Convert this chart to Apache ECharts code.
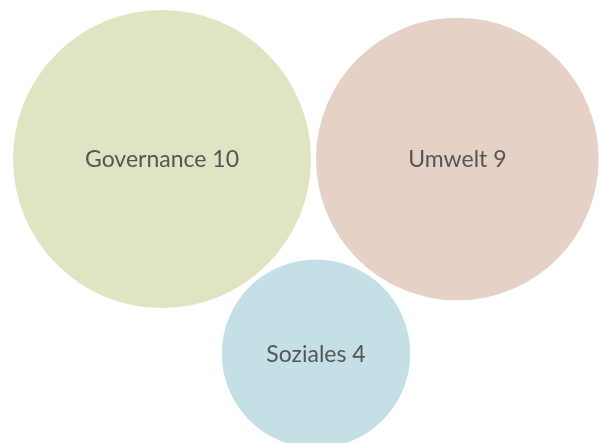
<!DOCTYPE html>
<html>
<head>
<meta charset="utf-8">
<script src="https://cdn.jsdelivr.net/npm/echarts@6/dist/echarts.min.js"></script>
<style>
  html, body { margin: 0; padding: 0; background: #fff; }
  #chart { width: 599px; height: 443px; }
</style>
</head>
<body>
<div id="chart"></div>
<script>
// Daten
const names = ['Governance', 'Umwelt', 'Soziales'];
const values = [10, 9, 4];
const colors = ['#e1e4c3', '#e6d1c7', '#c4e0e6'];

// Kreisfläche proportional zum Wert
const scale = 149 / Math.sqrt(10);
const gap = 5;
const radii = values.map(v => scale * Math.sqrt(v));

// einfaches Packing: die ersten zwei nebeneinander, der dritte darunter an beiden anliegend
const centers = [];
centers[0] = [162, 159];
centers[1] = [centers[0][0] + radii[0] + radii[1] + gap, centers[0][1]];
(function () {
  const a = radii[0] + radii[2] + gap;   // Abstand zu 0
  const b = radii[1] + radii[2] + gap;   // Abstand zu 1
  const d = centers[1][0] - centers[0][0];
  const x = (a * a - b * b + d * d) / (2 * d);
  const y = Math.sqrt(a * a - x * x);
  centers[2] = [centers[0][0] + x, centers[0][1] + y];
})();

const data = names.map((n, i) => ({
  name: n,
  value: [centers[i][0], centers[i][1], values[i]],
  symbolSize: radii[i] * 2,
  itemStyle: { color: colors[i], opacity: 1 }
}));

const myChart = echarts.init(document.getElementById('chart'));
const option = {
  animation: false,
  grid: { left: 0, right: 0, top: 0, bottom: 0 },
  xAxis: { type: 'value', min: 0, max: 599, show: false },
  yAxis: { type: 'value', min: 0, max: 443, inverse: true, show: false },
  series: [
    {
      type: 'scatter',
      data: data,
      label: {
        show: true,
        position: 'inside',
        offset: [0, 1],
        formatter: p => p.name + ' ' + p.value[2],
        fontFamily: 'Lato',
        fontSize: 23,
        color: '#555555'
      },
      emphasis: { disabled: true }
    }
  ]
};
myChart.setOption(option);
</script>
</body>
</html>
